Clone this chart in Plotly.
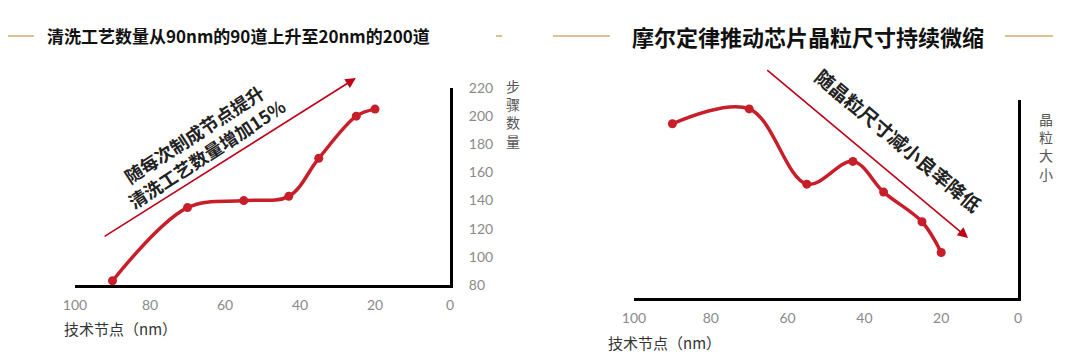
import plotly.graph_objects as go

# page body has an 8px margin; the figure is sized to fill the rest of the window
OFF = 8
W, H = 1080 - OFF, 361 - OFF

# ---- data ----
node_left = [90, 70, 55, 43, 35, 25, 20]
steps = [83, 135, 140, 143, 170, 200, 205]
node_right = [90, 70, 55, 43, 35, 25, 20]
grain = [88, 95.5, 57.5, 69, 53.5, 38.5, 23]
x_ticks = [100, 80, 60, 40, 20, 0]
y_ticks_left = [80, 100, 120, 140, 160, 180, 200, 220]

title_left = "清洗工艺数量从90nm的90道上升至20nm的200道"
title_right = "摩尔定律推动芯片晶粒尺寸持续微缩"
note_left = "随每次制成节点提升<br>清洗工艺数量增加15%"
note_right = "随晶粒尺寸减小良率降低"
xlab = "技术节点（nm）"
ylab_left = "步骤数量"
ylab_right = "晶粒大小"

RED = "#C81E2A"
ARROW = "#C00018"
GOLD = "#D9C48E"
CJK = "Noto Sans CJK SC"


def px(x):
    return (x - OFF) / W


def py(y):
    return 1 - (y - OFF) / H


fig = go.Figure()
fig.add_trace(go.Scatter(x=node_left, y=steps, mode="lines+markers",
                         line=dict(color=RED, width=3.5, shape="spline", smoothing=1),
                         marker=dict(color=RED, size=9),
                         xaxis="x", yaxis="y", showlegend=False))
fig.add_trace(go.Scatter(x=node_right, y=grain, mode="lines+markers",
                         line=dict(color=RED, width=3.5, shape="spline", smoothing=1),
                         marker=dict(color=RED, size=9),
                         xaxis="x2", yaxis="y2", showlegend=False))

tickfont = dict(family="Lato, Open Sans, sans-serif", size=14, color="#8a8a8a")

fig.update_layout(
    width=W, height=H, margin=dict(l=0, r=0, t=0, b=0, pad=0, autoexpand=False),
    paper_bgcolor="white", plot_bgcolor="white",
    xaxis=dict(domain=[px(75), px(450)], range=[100, 0], tickvals=x_ticks,
               showgrid=False, zeroline=False, showline=True, linecolor="black",
               linewidth=3, tickfont=tickfont, ticks="", ticklabelstandoff=5,
               anchor="y", automargin=False),
    yaxis=dict(domain=[py(285), py(88)], range=[80, 220], tickvals=y_ticks_left,
               side="right", showgrid=False, zeroline=False, showline=True,
               linecolor="black", linewidth=3, tickfont=tickfont, ticks="",
               ticklabelstandoff=13, anchor="x", automargin=False),
    xaxis2=dict(domain=[px(634), px(1018)], range=[100, 0], tickvals=x_ticks,
                showgrid=False, zeroline=False, showline=True, linecolor="black",
                linewidth=3, tickfont=tickfont, ticks="", ticklabelstandoff=5,
                anchor="y2", automargin=False),
    yaxis2=dict(domain=[py(298), py(100)], range=[0, 100], side="right",
                showgrid=False, zeroline=False, showline=True, linecolor="black",
                linewidth=3, showticklabels=False, ticks="", anchor="x2",
                automargin=False),
)


def txt(text, x, y, size, color, **kw):
    d = dict(text=text, x=px(x), y=py(y), xref="paper", yref="paper",
             xanchor=kw.pop("xanchor", "center"), yanchor="middle",
             showarrow=False, font=dict(family=CJK, size=size, color=color,
                                        weight=kw.pop("weight", "normal")))
    d.update(kw)
    return d


ann = []
ann.append(txt(title_left, 238, 36, 17, "#111", weight="bold"))
ann.append(txt(title_right, 808, 36, 22, "#111", weight="bold"))
ann.append(txt(xlab, 62, 328, 15, "#333", xanchor="left"))
ann.append(txt(xlab, 606, 342, 15, "#333", xanchor="left"))
ann.append(txt("<br>".join(ylab_left), 513, 113, 14, "#555"))
ann.append(txt("<br>".join(ylab_right), 1046, 147, 14, "#555"))
ann.append(txt(note_left, 200, 144, 18, "#222", weight="bold", textangle=-33, align="center"))
ann.append(txt(note_right, 898, 140, 19, "#222", weight="bold", textangle=40))
# trend arrows (data coords of each subplot)
ann.append(dict(x=25.1, y=227.1, ax=92.5, ay=113.9, xref="x", yref="y", axref="x", ayref="y",
                showarrow=True, arrowhead=2, arrowsize=1.3, arrowwidth=1.6, arrowcolor=ARROW, text=""))
ann.append(dict(x=13.0, y=30.3, ax=65.7, ay=115.7, xref="x2", yref="y2", axref="x2", ayref="y2",
                showarrow=True, arrowhead=2, arrowsize=1.3, arrowwidth=1.6, arrowcolor=ARROW, text=""))
fig.update_layout(annotations=ann)

shapes = []
for x0, x1 in [(8, 34), (496, 502), (553, 610), (1005, 1053)]:
    shapes.append(dict(type="line", xref="paper", yref="paper", x0=px(x0), x1=px(x1),
                       y0=py(36), y1=py(36), line=dict(color=GOLD, width=2)))
fig.update_layout(shapes=shapes)

fig.write_html("out.html")
